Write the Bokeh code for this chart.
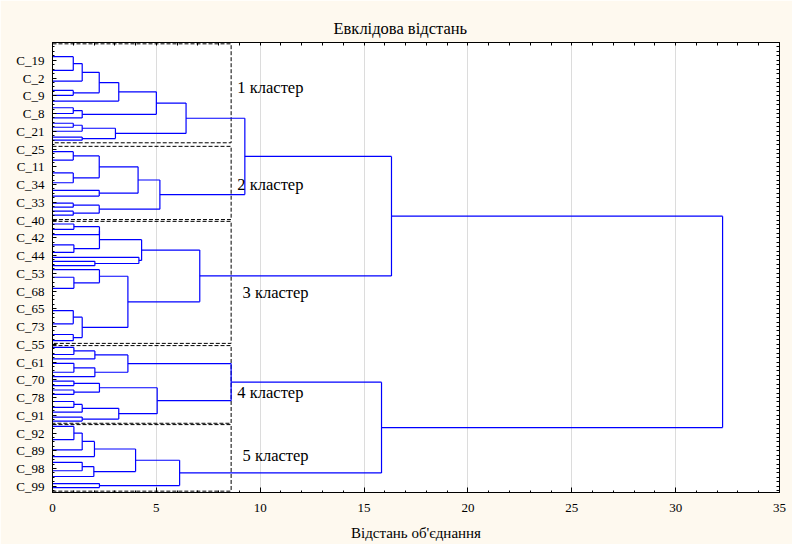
from bokeh.plotting import figure
from bokeh.models import Range1d, FixedTicker, LinearAxis, ColumnDataSource, Label
from bokeh.embed import file_html
from bokeh.resources import INLINE

# ---- data ----
# vertical position of each visible leaf (leaf slot units, 0 = top)
leaf_y = [3.2, 6.3, 8.7, 10.8, 11.9, 13.2, 14.7, 16.0, 17.0, 18.2, 19.1, 20.0, 21.3, 22.0,
          24.6, 26.5, 29.4, 31.6, 33.3, 34.6, 36.2, 37.1, 38.0, 38.9,
          40.9, 42.1, 43.3, 45.6, 47.3, 48.4, 49.3, 50.3, 51.2, 52.9, 55.4, 60.4, 63.4, 65.8, 67.2,
          68.7, 70.3, 71.3, 72.3, 74.3, 75.3, 76.3, 77.3, 78.3, 79.3, 80.9, 82.2, 83.3, 84.4, 85.3,
          86.5, 89.5, 91.8, 93.3, 94.6, 96.5, 97.8, 99.4, 100.3]

# merges: child a, child b (L = leaf, M = earlier merge), linkage distance
merge_a = ["L0", "M0", "L3", "M1", "M3", "L6", "M5", "M4", "L9", "M8", "L12", "M9", "M7",
           "L14", "L16", "M13", "L18", "M15", "L20", "L22", "M18", "M17", "M12",
           "L24", "M23", "L27", "M24", "L30", "L29", "M26", "L33", "L32", "L35", "L37", "M32", "M31", "M29", "M22",
           "L39", "M38", "L42", "M40", "M39", "L45", "L47", "M43", "L49", "M46", "L52", "M47", "M45", "M42",
           "L54", "M52", "M53", "L58", "M55", "M54", "L61", "M57", "M51", "M37"]
merge_b = ["L1", "L2", "L4", "M2", "L5", "L7", "L8", "M6", "L10", "L11", "L13", "M10", "M11",
           "L15", "L17", "M14", "L19", "M16", "L21", "L23", "M19", "M20", "M21",
           "L25", "L26", "L28", "M25", "L31", "M27", "M28", "L34", "M30", "L36", "L38", "M33", "M34", "M35", "M36",
           "L40", "L41", "L43", "L44", "M41", "L46", "L48", "M44", "L50", "L51", "L53", "M48", "M49", "M50",
           "L55", "L56", "L57", "L59", "L60", "M56", "L62", "M58", "M59", "M60"]
merge_h = [1.0, 1.43, 1.0, 2.25, 3.19, 1.0, 1.43, 5.0, 1.0, 1.43, 1.43, 3.03, 6.43,
           1.0, 1.0, 2.25, 2.25, 4.12, 1.0, 1.0, 2.25, 5.17, 9.26,
           1.03, 2.26, 1.03, 2.26, 2.04, 4.16, 4.29, 1.03, 2.26, 1.0, 1.0, 1.43, 3.63, 7.09, 16.32,
           1.03, 2.04, 1.03, 2.04, 3.63, 1.03, 1.03, 2.26, 1.03, 1.43, 1.43, 3.19, 5.04, 8.6,
           1.03, 1.43, 2.02, 1.43, 1.99, 4.0, 2.26, 6.12, 15.84, 32.26]

leaf_names = ["C_19", "C_2", "C_9", "C_8", "C_21", "C_25", "C_11", "C_34", "C_33", "C_40",
              "C_42", "C_44", "C_53", "C_68", "C_65", "C_73", "C_55", "C_61", "C_70", "C_78",
              "C_91", "C_92", "C_89", "C_98", "C_99"]

cluster_names = ["1 кластер", "2 кластер", "3 кластер", "4 кластер", "5 кластер"]
cluster_top = [0.3, 23.4, 40.3, 68.3, 86.1]
cluster_bottom = [22.6, 39.9, 67.8, 85.8, 101.1]
cluster_cut = [8.6, 8.6, 8.6, 8.6, 8.6]
cluster_label_x = [8.9, 8.9, 9.15, 8.9, 9.15]
cluster_label_y = [10.1, 32.0, 56.3, 78.9, 93.1]

x_ticks = [0, 5, 10, 15, 20, 25, 30, 35]

# ---- build dendrogram geometry ----
node_y, node_h = [], []


def ref(r):
    i = int(r[1:])
    if r[0] == "L":
        return leaf_y[i], 0.0
    return node_y[i], node_h[i]


x0, y0, x1, y1 = [], [], [], []
for a, b, h in zip(merge_a, merge_b, merge_h):
    ya, ha = ref(a)
    yb, hb = ref(b)
    x0 += [ha, hb, h]
    y0 += [ya, yb, ya]
    x1 += [h, h, h]
    y1 += [ya, yb, yb]
    node_y.append((ya + yb) / 2)
    node_h.append(h)

SERIF = "Liberation Serif"

p = figure(width=792, height=544, output_backend="svg", toolbar_location=None,
           x_range=Range1d(0, 35), y_range=Range1d(101.4, 0),
           min_border_left=52, min_border_right=13, min_border_top=42, min_border_bottom=52,
           title="Евклідова відстань")
p.background_fill_color = "white"
p.border_fill_color = "#FEF9EF"
p.outline_line_color = "black"
p.outline_line_width = 1

p.title.align = "left"
p.title.offset = 281
p.title.text_font = SERIF
p.title.text_font_size = "16.5px"
p.title.text_font_style = "normal"
p.title.text_color = "black"
p.title.standoff = 9

# axes
label_pos = [4 * (i + 1) for i in range(len(leaf_names))]
p.yaxis.ticker = FixedTicker(ticks=label_pos, minor_ticks=list(range(1, 102)))
p.yaxis.major_label_overrides = {pos: name for pos, name in zip(label_pos, leaf_names)}
p.xaxis.ticker = FixedTicker(ticks=x_ticks, minor_ticks=list(range(0, 36)))
for ax in (p.xaxis[0], p.yaxis[0]):
    ax.axis_line_color = "black"
    ax.major_tick_in = 4
    ax.major_tick_out = 0
    ax.minor_tick_in = 2
    ax.minor_tick_out = 0
    ax.major_tick_line_color = "black"
    ax.minor_tick_line_color = "black"
    ax.major_label_text_font = SERIF
    ax.major_label_text_font_size = "13px"
    ax.major_label_text_color = "black"
p.yaxis.major_label_standoff = 8
p.xaxis.major_label_standoff = 11
p.xaxis.major_tick_in = 5
p.xaxis.axis_label = "Відстань об'єднання"
p.xaxis.axis_label_text_font = SERIF
p.xaxis.axis_label_text_font_size = "15px"
p.xaxis.axis_label_text_font_style = "normal"
p.xaxis.axis_label_text_color = "black"
p.xaxis.axis_label_standoff = 10

top_axis = LinearAxis(ticker=FixedTicker(ticks=[], minor_ticks=list(range(0, 36))),
                      minor_tick_in=3, minor_tick_out=0, major_tick_out=0, major_tick_in=0)
right_axis = LinearAxis(ticker=FixedTicker(ticks=[], minor_ticks=list(range(1, 102))),
                        minor_tick_in=3, minor_tick_out=0, major_tick_out=0, major_tick_in=0)
p.add_layout(top_axis, "above")
p.add_layout(right_axis, "right")

p.ygrid.visible = False
p.xgrid.ticker = FixedTicker(ticks=x_ticks)
p.xgrid.grid_line_color = "#dcdcdc"
p.xgrid.grid_line_width = 1

# cluster boxes
box_src = ColumnDataSource(dict(left=[0] * len(cluster_cut), right=cluster_cut,
                                top=cluster_top, bottom=cluster_bottom))
p.quad(left="left", right="right", top="top", bottom="bottom", source=box_src,
       fill_color=None, line_color="black", line_dash="4 2", line_width=1)

# dendrogram lines
seg_src = ColumnDataSource(dict(x0=x0, y0=y0, x1=x1, y1=y1))
p.segment(x0="x0", y0="y0", x1="x1", y1="y1", source=seg_src,
          line_color="#0000FF", line_width=1.2)

# cluster labels
for name, lx, ly in zip(cluster_names, cluster_label_x, cluster_label_y):
    p.add_layout(Label(x=lx, y=ly, text=name, text_font=SERIF, text_font_size="16.5px",
                       text_baseline="middle", text_align="left", text_color="black"))

open("out.html", "w").write(file_html(p, INLINE))
